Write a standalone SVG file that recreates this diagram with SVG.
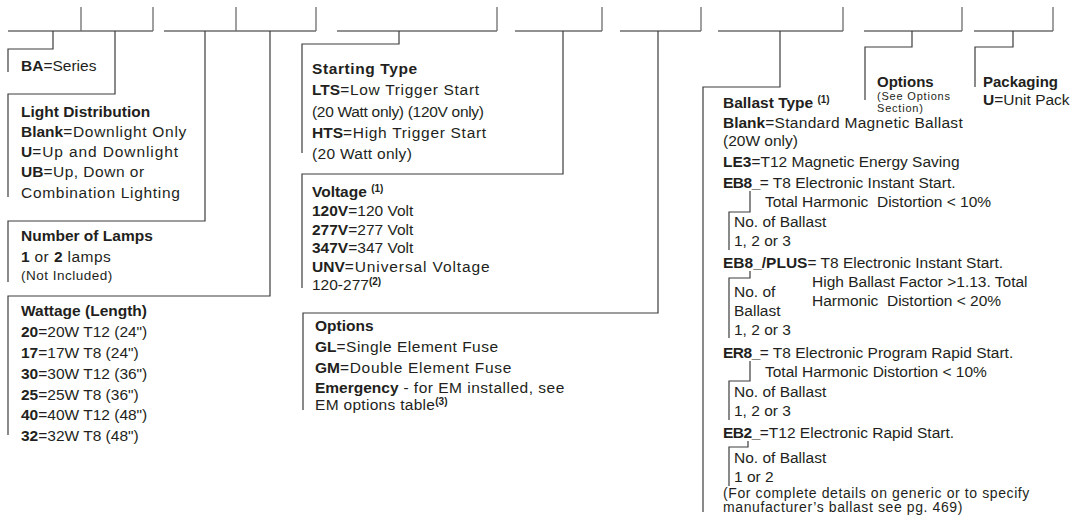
<svg xmlns="http://www.w3.org/2000/svg" width="1075" height="523" viewBox="0 0 1075 523">
<style>
.slot{stroke:#6d6d6d;stroke-width:1.3;fill:none}
.ln{stroke:#3c3c3c;stroke-width:1.2;fill:none}
text{font-family:"Liberation Sans",Arial,sans-serif;font-size:15.5px;fill:#231f20}
.h{font-weight:bold}
tspan.h{letter-spacing:0}
tspan.n{letter-spacing:-.5px}
.s{font-size:13.5px}
.sup{font-size:10px}
.w3{letter-spacing:.3px}
.w5{letter-spacing:.5px}
.w7{letter-spacing:.7px}
.w9{letter-spacing:.9px}
</style>
<rect width="1075" height="523" fill="#ffffff"/>
<g id="slots">
<path class="slot" d="M8,31H153M81,7V31M153,7V31"/>
<path class="slot" d="M164,31H316M236,7V31M316,7V31"/>
<path class="slot" d="M337,31H497M497,7V31"/>
<path class="slot" d="M515,31H602M602,7V31"/>
<path class="slot" d="M620,31H701M701,7V31"/>
<path class="slot" d="M718,31H843M843,7V31"/>
<path class="slot" d="M864,31H962M962,7V31"/>
<path class="slot" d="M974,31H1053M1053,7V31"/>
</g>
<g id="connectors">
<path class="ln" d="M53,31V49H8V72"/>
<path class="ln" d="M115,31V94H8V197"/>
<path class="ln" d="M205,31V221H8V282"/>
<path class="ln" d="M270,31V296H8V435"/>
<path class="ln" d="M399,31V44H302V153"/>
<path class="ln" d="M563,31V174H302V288"/>
<path class="ln" d="M658,31V313H303V410"/>
<path class="ln" d="M780,31V87H703V512"/>
<path class="ln" d="M912,31V47H865V100"/>
<path class="ln" d="M1013,31V47H975V87"/>
<path class="ln" d="M750,191V212H729V250"/>
<path class="ln" d="M750,271V278H729V338"/>
<path class="ln" d="M750,361V381H729V420"/>
<path class="ln" d="M748,441V447H729V486"/>
</g>
<g id="series">
<text x="21" y="71"><tspan class="h">BA</tspan>=Series</text>
</g>
<g id="light-distribution">
<text x="21" y="117" class="h">Light Distribution</text>
<text x="21" y="137" class="w7"><tspan class="h">Blank</tspan>=Downlight Only</text>
<text x="21" y="157" class="w9"><tspan class="h">U</tspan>=Up and Downlight</text>
<text x="21" y="177" class="w5"><tspan class="h">UB</tspan>=Up, Down or</text>
<text x="21" y="198" class="w7">Combination Lighting</text>
</g>
<g id="number-of-lamps">
<text x="21" y="241" class="h">Number of Lamps</text>
<text x="21" y="262" class="w5"><tspan class="h">1</tspan> or <tspan class="h">2</tspan> lamps</text>
<text x="21" y="280" class="s w5">(Not Included)</text>
</g>
<g id="wattage">
<text x="21" y="316" class="h">Wattage (Length)</text>
<text x="21" y="337"><tspan class="h">20</tspan>=20W T12 (24")</text>
<text x="21" y="358"><tspan class="h">17</tspan>=17W T8 (24")</text>
<text x="21" y="379"><tspan class="h">30</tspan>=30W T12 (36")</text>
<text x="21" y="400"><tspan class="h">25</tspan>=25W T8 (36")</text>
<text x="21" y="420"><tspan class="h">40</tspan>=40W T12 (48")</text>
<text x="21" y="441"><tspan class="h">32</tspan>=32W T8 (48")</text>
</g>
<g id="starting-type">
<text x="312" y="74" class="h" style="letter-spacing:.6px">Starting Type</text>
<text x="312" y="95" class="w7"><tspan class="h">LTS</tspan>=Low Trigger Start</text>
<text x="312" y="117" style="letter-spacing:-.3px">(20 Watt only) (120V only)</text>
<text x="312" y="138" class="w7"><tspan class="h">HTS</tspan>=High Trigger Start</text>
<text x="312" y="159" class="w3">(20 Watt only)</text>
</g>
<g id="voltage">
<text x="312" y="197"><tspan class="h">Voltage </tspan><tspan class="sup h" dy="-5">(1)</tspan></text>
<text x="312" y="216"><tspan class="h">120V</tspan>=120 Volt</text>
<text x="312" y="235"><tspan class="h">277V</tspan>=277 Volt</text>
<text x="312" y="253"><tspan class="h">347V</tspan>=347 Volt</text>
<text x="312" y="272" class="w9"><tspan class="h">UNV</tspan>=Universal Voltage</text>
<text x="312" y="290">120-277<tspan class="sup h" dy="-5">(2)</tspan></text>
</g>
<g id="options">
<text x="315" y="331" class="h">Options</text>
<text x="315" y="352" class="w5"><tspan class="h">GL</tspan>=Single Element Fuse</text>
<text x="315" y="373" class="w7"><tspan class="h">GM</tspan>=Double Element Fuse</text>
<text x="315" y="393" class="w5"><tspan class="h">Emergency</tspan> - for EM installed, see</text>
<text x="315" y="410" class="w3">EM options table<tspan class="sup h" dy="-5">(3)</tspan></text>
</g>
<g id="ballast-type">
<text x="723" y="108"><tspan class="h">Ballast Type </tspan><tspan class="sup h" dy="-5">(1)</tspan></text>
<text x="723" y="128" class="w3"><tspan class="h">Blank</tspan>=Standard Magnetic Ballast</text>
<text x="723" y="146">(20W only)</text>
<text x="723" y="167"><tspan class="h">LE3</tspan>=T12 Magnetic Energy Saving</text>
<text x="723" y="188"><tspan class="h n">EB8_</tspan>= T8 Electronic Instant Start.</text>
<text x="765" y="207" xml:space="preserve">Total Harmonic  Distortion &lt; 10%</text>
<text x="734" y="227">No. of Ballast</text>
<text x="734" y="246">1, 2 or 3</text>
<text x="723" y="268"><tspan class="h">EB8_/PLUS</tspan>= T8 Electronic Instant Start.</text>
<text x="812" y="287">High Ballast Factor &gt;1.13. Total</text>
<text x="734" y="297">No. of</text>
<text x="812" y="306" xml:space="preserve">Harmonic  Distortion &lt; 20%</text>
<text x="734" y="316">Ballast</text>
<text x="734" y="335">1, 2 or 3</text>
<text x="723" y="358"><tspan class="h n">ER8_</tspan>= T8 Electronic Program Rapid Start.</text>
<text x="765" y="377">Total Harmonic Distortion &lt; 10%</text>
<text x="734" y="397">No. of Ballast</text>
<text x="734" y="416">1, 2 or 3</text>
<text x="723" y="438"><tspan class="h n">EB2_</tspan>=T12 Electronic Rapid Start.</text>
<text x="734" y="463">No. of Ballast</text>
<text x="734" y="482">1 or 2</text>
<text x="723" y="498" style="font-size:14px;letter-spacing:.6px">(For complete details on generic or to specify</text>
<text x="723" y="512" style="font-size:14px;letter-spacing:.6px">manufacturer’s ballast see pg. 469)</text>
</g>
<g id="options-section">
<text x="877" y="87" class="h" style="font-size:15px">Options</text>
<text x="877" y="100" style="font-size:11px;letter-spacing:.8px">(See Options</text>
<text x="877" y="112" style="font-size:11px;letter-spacing:.8px">Section)</text>
</g>
<g id="packaging">
<text x="983" y="87" class="h" style="font-size:15px">Packaging</text>
<text x="983" y="105"><tspan class="h">U</tspan>=Unit Pack</text>
</g>
</svg>
